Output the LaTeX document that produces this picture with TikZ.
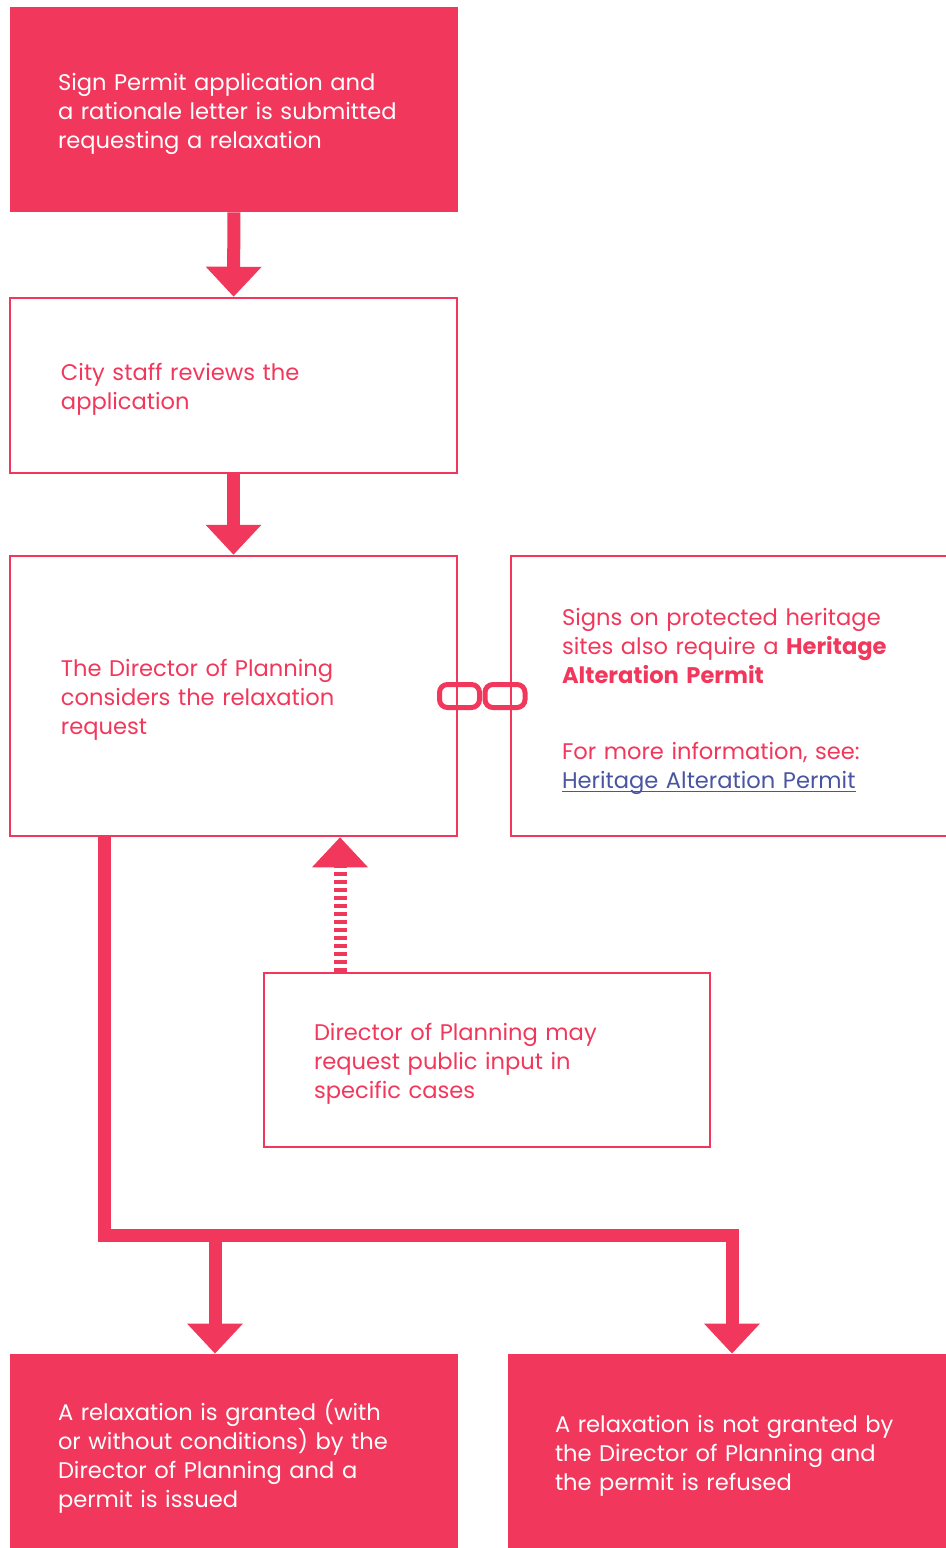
\documentclass[tikz,border=0pt]{standalone}
\usepackage{fontspec}
\setmainfont{Poppins}
\usetikzlibrary{arrows.meta}

\definecolor{permitred}{HTML}{F1375B}
\definecolor{linkblue}{HTML}{4A55A2}

\begin{document}
\begin{tikzpicture}[x=0.5pt, y=-0.5pt,
    every node/.style={font=\fontsize{11.3pt}{14.5pt}\selectfont},
    solidbox/.style={rectangle, fill=permitred, text=white, align=left, inner ysep=0pt,
                     execute at end node={\endgraf\vspace*{-4pt}}},
    openbox/.style={rectangle, draw=permitred, line width=1.25pt, text=permitred, align=left, inner ysep=0pt,
                    execute at end node={\endgraf\vspace*{-4pt}}},
    flow/.style={draw=permitred, line width=6.5pt, line join=miter,
                 -{Triangle[length=15pt, width=27pt]}},
    dashflow/.style={flow, dash pattern=on 2pt off 2pt},
    chainlink/.style={rectangle, draw=permitred, line width=2.5pt, rounded corners=4pt,
                      minimum width=20pt, minimum height=11.5pt, inner sep=0pt}]

  \useasboundingbox (0,0) rectangle (946,1548);

  % application submitted
  \node[solidbox, minimum width=224pt, minimum height=102.5pt, text width=176pt] (submit)
        at (234,109.5) {Sign Permit application and\\ a rationale letter is submitted\\ requesting a relaxation};

  % staff review
  \node[openbox, minimum width=223.5pt, minimum height=87.5pt, text width=172.5pt] (review)
        at (233.5,385.5) {City staff reviews the\\ application};

  \path[flow] (submit) -- (review);

  % director decides
  \node[openbox, minimum width=223.5pt, minimum height=140pt, text width=172.5pt] (director)
        at (233.5,696) {The Director of Planning\\ considers the relaxation\\ request};

  \path[flow] (review) -- (director);

  % heritage note, runs off the right edge
  \node[openbox, minimum width=219.5pt, minimum height=140pt, text width=168.5pt] (heritage)
        at (730.5,696) {Signs on protected heritage\\ sites also require a \textbf{Heritage}\\
        \textbf{Alteration Permit}\\[23.5pt]
        For more information, see:\\ \textcolor{linkblue}{\underline{\smash{Heritage Alteration Permit}}}};

  % chain between the two
  \node[chainlink] (linkL) at (459.5,696) {};
  \node[chainlink] (linkR) at (505,696) {};

  % public input
  \node[openbox, minimum width=223pt, minimum height=87pt, text width=173pt] (publicinput)
        at (487,1060) {Director of Planning may\\ request public input in\\ specific cases};

  \path[dashflow] ([xshift=-73.5pt]publicinput.north) -- ([xshift=-73.5pt]publicinput.north |- director.south);

  % outcomes
  \node[solidbox, minimum width=224pt, minimum height=98pt, text width=176pt] (granted)
        at (234,1452) {A relaxation is granted (with\\ or without conditions) by the\\ Director of Planning and a\\ permit is issued};

  \node[solidbox, minimum width=220pt, minimum height=98pt, text width=173pt] (refused)
        at (728,1452) {A relaxation is not granted by\\ the Director of Planning and\\ the permit is refused};

  \coordinate (split) at (104,1235.5);
  \coordinate (branch) at (215,1235.5);
  \coordinate (corner) at (732,1235.5);

  \path[flow] (director.south -| split) -- (split) -- (corner) -- (corner |- refused.north);
  \path[flow] (branch) -- (branch |- granted.north);

\end{tikzpicture}
\end{document}
